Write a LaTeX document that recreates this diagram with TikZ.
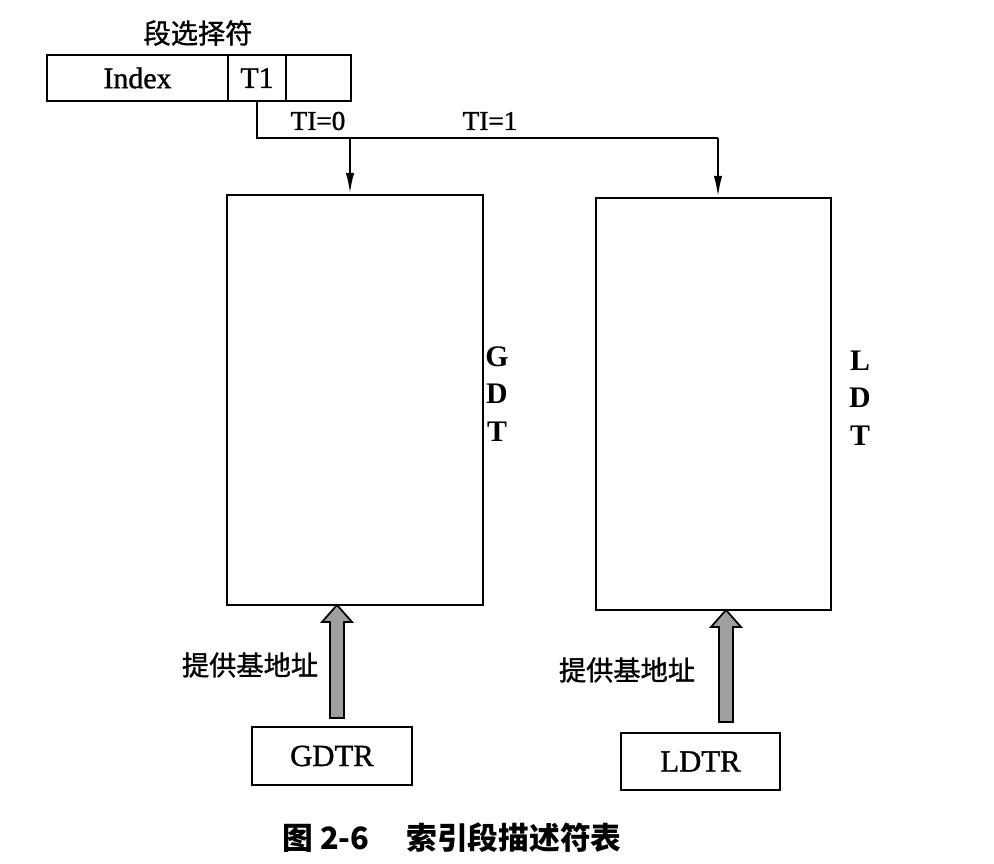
\documentclass[tikz,border=0pt]{standalone}
\usepackage{fontspec}
\setmainfont{Liberation Serif}[FakeBold=1.2]
\newfontfamily\plainserif{Liberation Serif}
\newfontfamily\cjk{Noto Sans CJK SC}[FakeBold=1.2]
\newfontfamily\cjkbold{Noto Sans CJK SC}
\usetikzlibrary{arrows.meta}
\begin{document}
\begin{tikzpicture}[x=0.02cm,y=-0.02cm,
  line width=1.3pt,
  cell/.style={draw,inner sep=0pt,font=\fontsize{17}{20}\selectfont},
  table/.style={draw,inner sep=0pt},
  reg/.style={draw,inner sep=0pt,font=\fontsize{17.5}{20}\selectfont},
  vlabel/.style={font=\plainserif\bfseries\fontsize{17}{20}\selectfont,align=center},
  cnlabel/.style={font=\cjk\fontsize{15.5}{18}\selectfont},
  tilabel/.style={font=\fontsize{15.5}{18}\selectfont},
  feed/.style={-{Latex[length=0.42cm,width=0.17cm]}},
  base/.style={draw=black,line width=1pt,fill=gray!75}]
\useasboundingbox (0,0) rectangle (994,864);

% segment selector
\node[cnlabel] (title) at (198,33) {段选择符};
\node[cell,minimum width=3.62cm,minimum height=0.92cm] (index) at (137.5,78) {Index};
\node[cell,minimum width=1.16cm,minimum height=0.92cm] (ti) at (257,78) {T1};
\node[cell,minimum width=1.30cm,minimum height=0.92cm] (rpl) at (318.5,78) {};

% descriptor tables
\node[table,minimum width=5.12cm,minimum height=8.20cm] (gdt) at (355,400) {};
\node[table,minimum width=4.70cm,minimum height=8.24cm] (ldt) at (713.5,404) {};
\node[vlabel] (gdtname) at (497,394) {G\\[1.5pt]D\\[1.5pt]T};
\node[vlabel] (ldtname) at (860,398) {L\\[1.5pt]D\\[1.5pt]T};

% table registers
\node[reg,minimum width=3.20cm,minimum height=1.16cm] (gdtr) at (332,756) {GDTR};
\node[reg,minimum width=3.18cm,minimum height=1.14cm] (ldtr) at (700.5,761.5) {LDTR};

% TI selection lines
\coordinate (split) at (350,138);
\coordinate (turn) at (718,138);
\draw (ti.south) |- (turn);
\draw[feed] (split) -- (split |- gdt.north);
\draw[feed] (turn) -- (turn |- ldt.north);
\node[tilabel] (ti0) at (318,121) {TI=0};
\node[tilabel] (ti1) at (490,121) {TI=1};

% base address arrows
\coordinate (gtip) at (337,605);
\coordinate (ltip) at (726,610);
\draw[base] (gtip) -- ++(15,17) -- ++(-8,0) -- ++(0,96) -- ++(-14,0) -- ++(0,-96) -- ++(-8,0) -- cycle;
\draw[base] (ltip) -- ++(15,17) -- ++(-8,0) -- ++(0,95) -- ++(-14,0) -- ++(0,-95) -- ++(-8,0) -- cycle;
\node[cnlabel] (gbase) at (250,665) {提供基地址};
\node[cnlabel] (lbase) at (627,670) {提供基地址};

% caption
\node[font=\cjkbold\bfseries\fontsize{17.5}{20}\selectfont] (caption) at (452,838) {图 2-6\hspace{1.2em}索引段描述符表};
\end{tikzpicture}
\end{document}
